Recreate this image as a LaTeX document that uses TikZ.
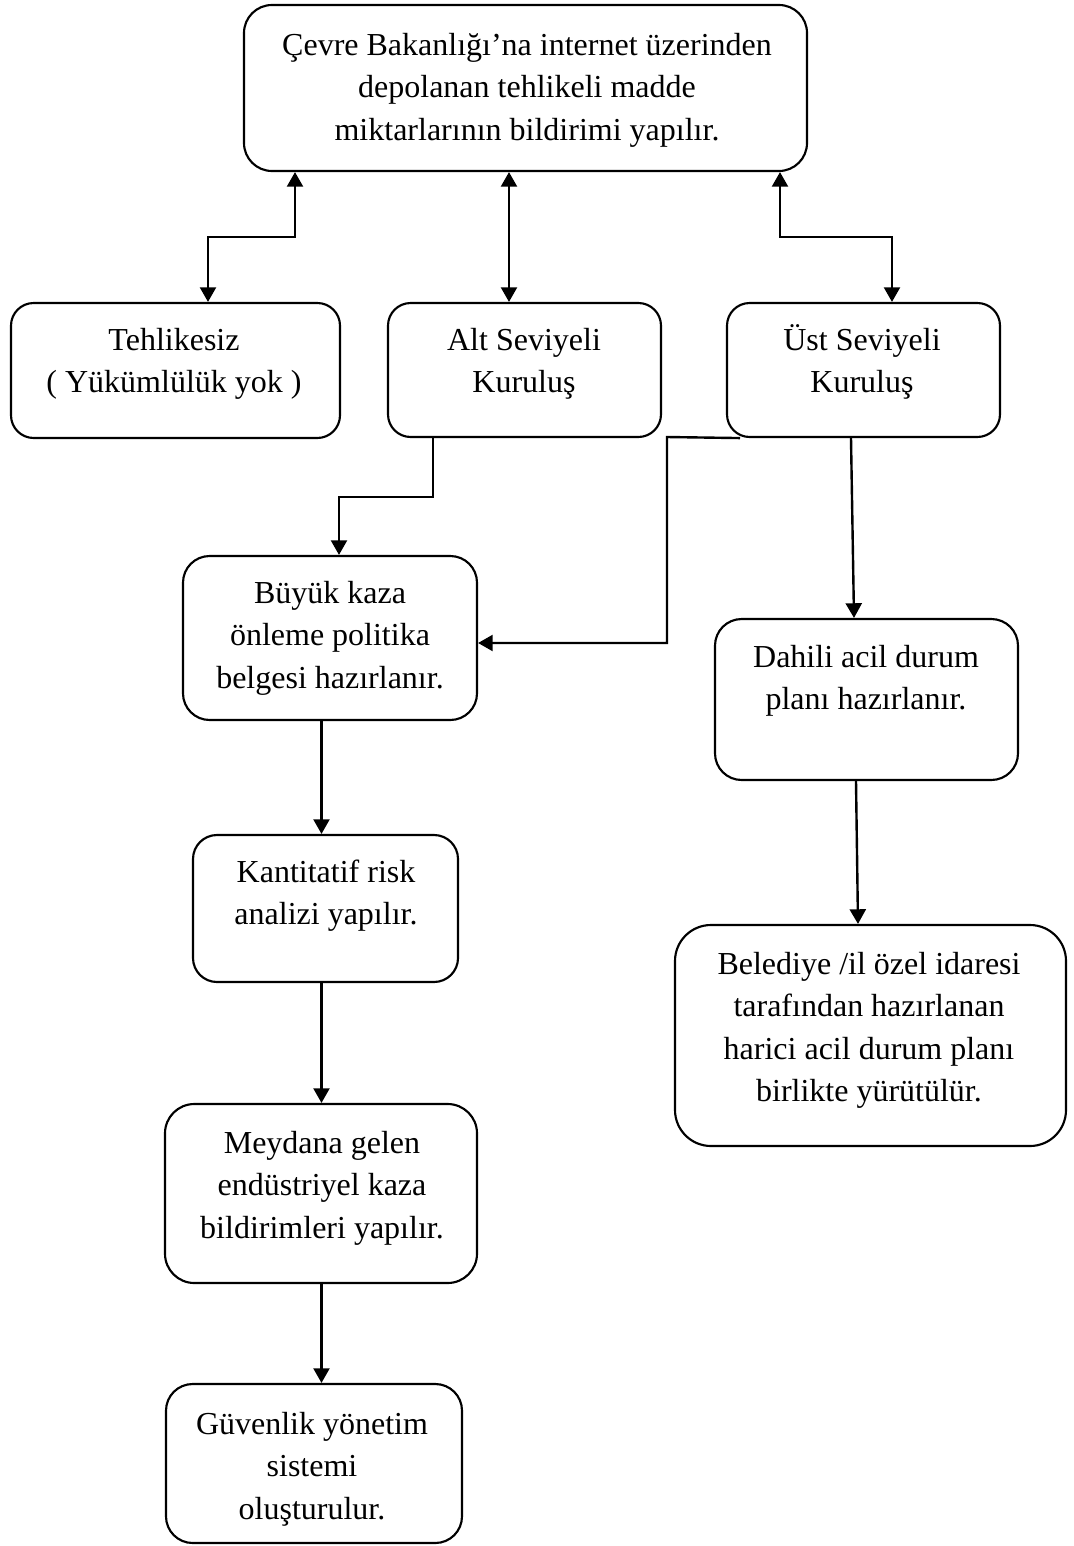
\documentclass[tikz,border=0pt]{standalone}
\usepackage{fontspec}
\setmainfont{Liberation Serif}
\usetikzlibrary{fit,arrows.meta,calc}
\newcommand\firstl{\rule{0pt}{24pt}}
\begin{document}
\begin{tikzpicture}[x=0.75pt,y=-0.75pt,
  box/.style={draw, line width=1.6pt, inner sep=0pt},
  txt/.style={align=center, inner sep=0pt, anchor=north, font=\fontsize{24pt}{31.875pt}\selectfont},
  conn/.style={line width=1.8pt},
  arr/.style={-{Triangle[width=12pt,length=11pt]}},
  darr/.style={{Triangle[width=12pt,length=11pt]}-{Triangle[width=12pt,length=11pt]}}]
\useasboundingbox (0,0) rectangle (1074,1546);

% boxes
\node[box, rounded corners=21pt, fit={(244,5) (807,171)}] (top) {};
\node[box, rounded corners=17pt, fit={(11,303) (340,438)}] (teh) {};
\node[box, rounded corners=17pt, fit={(388,303) (661,437)}] (alt) {};
\node[box, rounded corners=17pt, fit={(727,303) (1000,437)}] (ust) {};
\node[box, rounded corners=20pt, fit={(183,556) (477,720)}] (buyuk) {};
\node[box, rounded corners=20pt, fit={(715,619) (1018,780)}] (dahili) {};
\node[box, rounded corners=18pt, fit={(193,835) (458,982)}] (kant) {};
\node[box, rounded corners=27pt, fit={(675,925) (1066,1146)}] (beled) {};
\node[box, rounded corners=22pt, fit={(165,1104) (477,1283)}] (meyd) {};
\node[box, rounded corners=20pt, fit={(166,1384) (462,1543)}] (guv) {};

% texts
\node[txt] (toptxt) at (527,23) {\firstl Çevre Bakanlığı’na internet üzerinden\\depolanan tehlikeli madde\\miktarlarının bildirimi yapılır.};
\node[txt] (tehtxt) at (174,318) {\firstl Tehlikesiz\\( Yükümlülük yok )};
\node[txt] (alttxt) at (524,318) {\firstl Alt Seviyeli\\Kuruluş};
\node[txt] (usttxt) at (862,318) {\firstl Üst Seviyeli\\Kuruluş};
\node[txt] (buyuktxt) at (330,571) {\firstl Büyük kaza\\önleme politika\\belgesi hazırlanır.};
\node[txt] (dahilitxt) at (866,635) {\firstl Dahili acil durum\\planı hazırlanır.};
\node[txt] (kanttxt) at (326,850) {\firstl Kantitatif risk\\analizi yapılır.};
\node[txt] (beledtxt) at (869,942) {\firstl Belediye /il özel idaresi\\tarafından hazırlanan\\harici acil durum planı\\birlikte yürütülür.};
\node[txt] (meydtxt) at (322,1121) {\firstl Meydana gelen\\endüstriyel kaza\\bildirimleri yapılır.};
\node[txt] (guvtxt) at (312,1402) {\firstl Güvenlik yönetim\\sistemi\\oluşturulur.};

% connector routing points
\coordinate (c1) at (295,237);
\coordinate (c2) at (208,237);
\coordinate (c3) at (509,237);
\coordinate (c4) at (780,237);
\coordinate (c5) at (892,237);
\coordinate (c6) at (433,497);
\coordinate (c7) at (339,497);
\coordinate (c8) at (740,437);
\coordinate (c9) at (667,437);
\coordinate (c10) at (667,643);
\coordinate (c11) at (851,0);
\coordinate (c12) at (854,0);
\coordinate (c13) at (856,0);
\coordinate (c14) at (858,0);
\coordinate (c15) at (321.5,0);

% connectors
\draw[conn,darr] (top.south -| c1) -- (c1) -- (c2) -- (teh.north -| c2);
\draw[conn,darr] (top.south -| c3) -- (alt.north -| c3);
\draw[conn,darr] (top.south -| c4) -- (c4) -- (c5) -- (ust.north -| c5);
\draw[conn,arr] (alt.south -| c6) -- (c6) -- (c7) -- (buyuk.north -| c7);
\draw[conn,arr] (ust.south -| c8) -- (c9) -- (c10) -- (buyuk.east |- c10);
\draw[conn,arr] (ust.south -| c11) -- (dahili.north -| c12);
\draw[conn,arr] (dahili.south -| c13) -- (beled.north -| c14);
\draw[conn,arr] (buyuk.south -| c15) -- (kant.north -| c15);
\draw[conn,arr] (kant.south -| c15) -- (meyd.north -| c15);
\draw[conn,arr] (meyd.south -| c15) -- (guv.north -| c15);
\end{tikzpicture}
\end{document}
